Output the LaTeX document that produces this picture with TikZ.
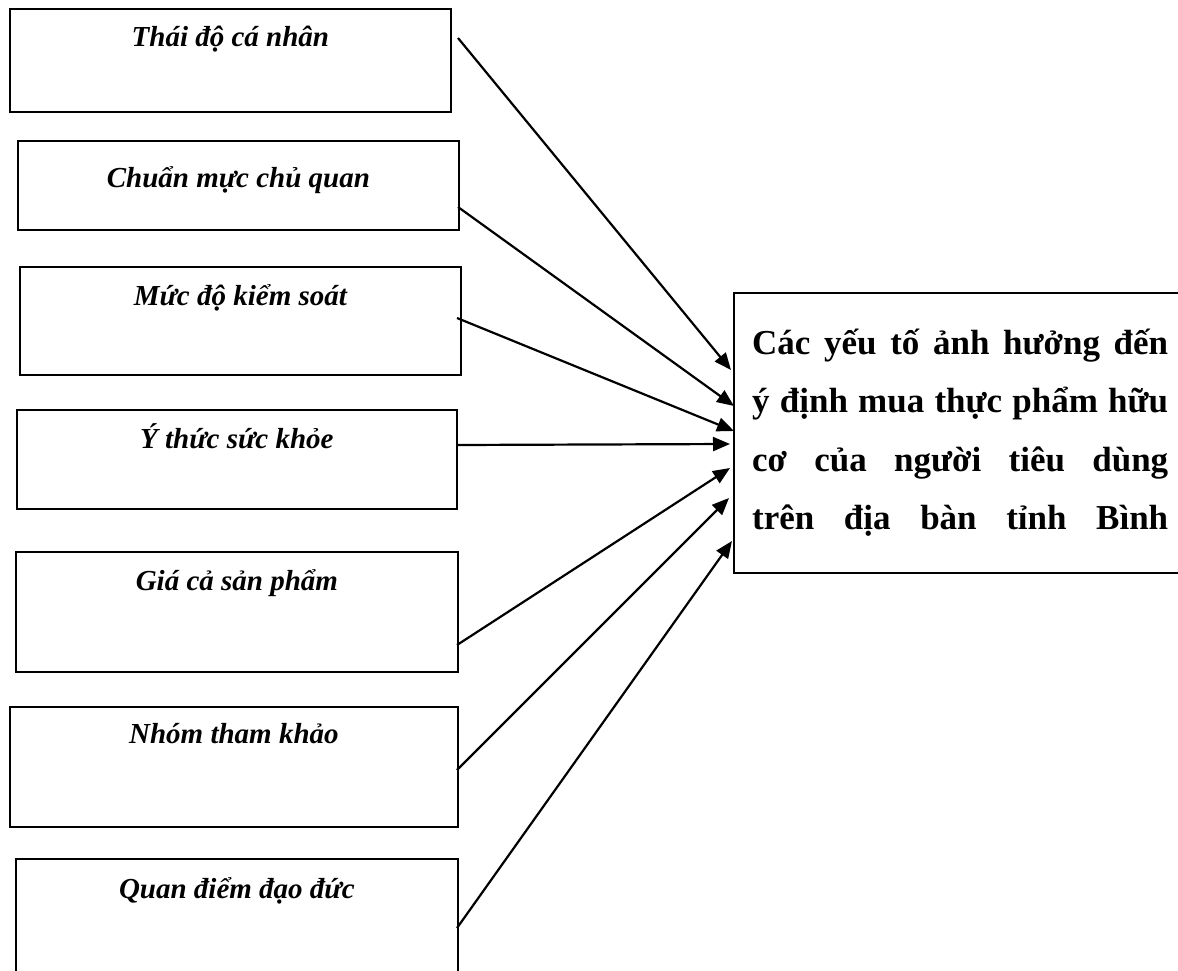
\documentclass[tikz,border=0pt]{standalone}
\usepackage{fontspec}
\setmainfont{Liberation Serif}
\usetikzlibrary{arrows.meta,calc}

\tikzset{
  factor/.style={draw, line width=1.8pt, anchor=north west, inner sep=0pt},
  factorlabel/.style={anchor=base, inner sep=0pt,
    font=\fontsize{29}{34}\selectfont\bfseries\itshape},
  outcome/.style={draw, line width=1.8pt, anchor=north west, inner sep=0pt},
  outcomeline/.style={anchor=base west, inner sep=0pt,
    font=\fontsize{35}{58}\selectfont\bfseries},
  link/.style={line width=2.2pt, -{Triangle[length=17pt,width=14pt]}},
}

\newcommand{\jline}[1]{\makebox[416pt][s]{#1}}

\begin{document}
\begin{tikzpicture}[x=1pt, y=-1pt]
  \useasboundingbox (0,0) rectangle (1178,971);
  \clip (0,0) rectangle (1178,971);

  % factor boxes on the left
  \node[factor, minimum width=441pt, minimum height=103pt] (b1) at (9,8)   {};
  \node[factor, minimum width=441pt, minimum height=89pt]  (b2) at (17,140) {};
  \node[factor, minimum width=441pt, minimum height=108pt] (b3) at (19,266) {};
  \node[factor, minimum width=440pt, minimum height=99pt]  (b4) at (16,409) {};
  \node[factor, minimum width=442pt, minimum height=120pt] (b5) at (15,551) {};
  \node[factor, minimum width=448pt, minimum height=120pt] (b6) at (9,706)  {};
  \node[factor, minimum width=442pt, minimum height=160pt] (b7) at (15,858) {};

  % factor labels near the top of each box
  \node[factorlabel] (t1) at ($(b1.north)+(0,39)$) {Thái độ cá nhân};
  \node[factorlabel] (t2) at ($(b2.north)+(0,47)$) {Chuẩn mực chủ quan};
  \node[factorlabel] (t3) at ($(b3.north)+(0,39)$) {Mức độ kiểm soát};
  \node[factorlabel] (t4) at ($(b4.north)+(0,39)$) {Ý thức sức khỏe};
  \node[factorlabel] (t5) at ($(b5.north)+(0,39)$) {Giá cả sản phẩm};
  \node[factorlabel] (t6) at ($(b6.north)+(0,37)$) {Nhóm tham khảo};
  \node[factorlabel] (t7) at ($(b7.north)+(0,40)$) {Quan điểm đạo đức};

  % outcome box on the right, running past the right edge
  \node[outcome, minimum width=480pt, minimum height=280pt] (goal) at (733,292) {};
  \node[outcomeline] (g1) at (752,354) {\jline{Các yếu tố ảnh hưởng đến}};
  \node[outcomeline] (g2) at (752,412) {\jline{ý định mua thực phẩm hữu}};
  \node[outcomeline] (g3) at (752,471) {\jline{cơ của người tiêu dùng}};
  \node[outcomeline] (g4) at (752,529) {\jline{trên địa bàn tỉnh Bình}};

  % connector ends
  \coordinate (s1) at (458,38);  \coordinate (e1) at (731,370);
  \coordinate (s2) at (458,207); \coordinate (e2) at (734,406);
  \coordinate (s3) at (457,318); \coordinate (e3) at (734,431);
  \coordinate (s4) at (458,445); \coordinate (e4) at (730,444);
  \coordinate (s5) at (457,645); \coordinate (e5) at (730,468);
  \coordinate (s6) at (457,770); \coordinate (e6) at (729,498);
  \coordinate (s7) at (457,928); \coordinate (e7) at (732,541);

  \foreach \i in {1,...,7}
    \draw[link] (s\i) -- (e\i);
\end{tikzpicture}
\end{document}
